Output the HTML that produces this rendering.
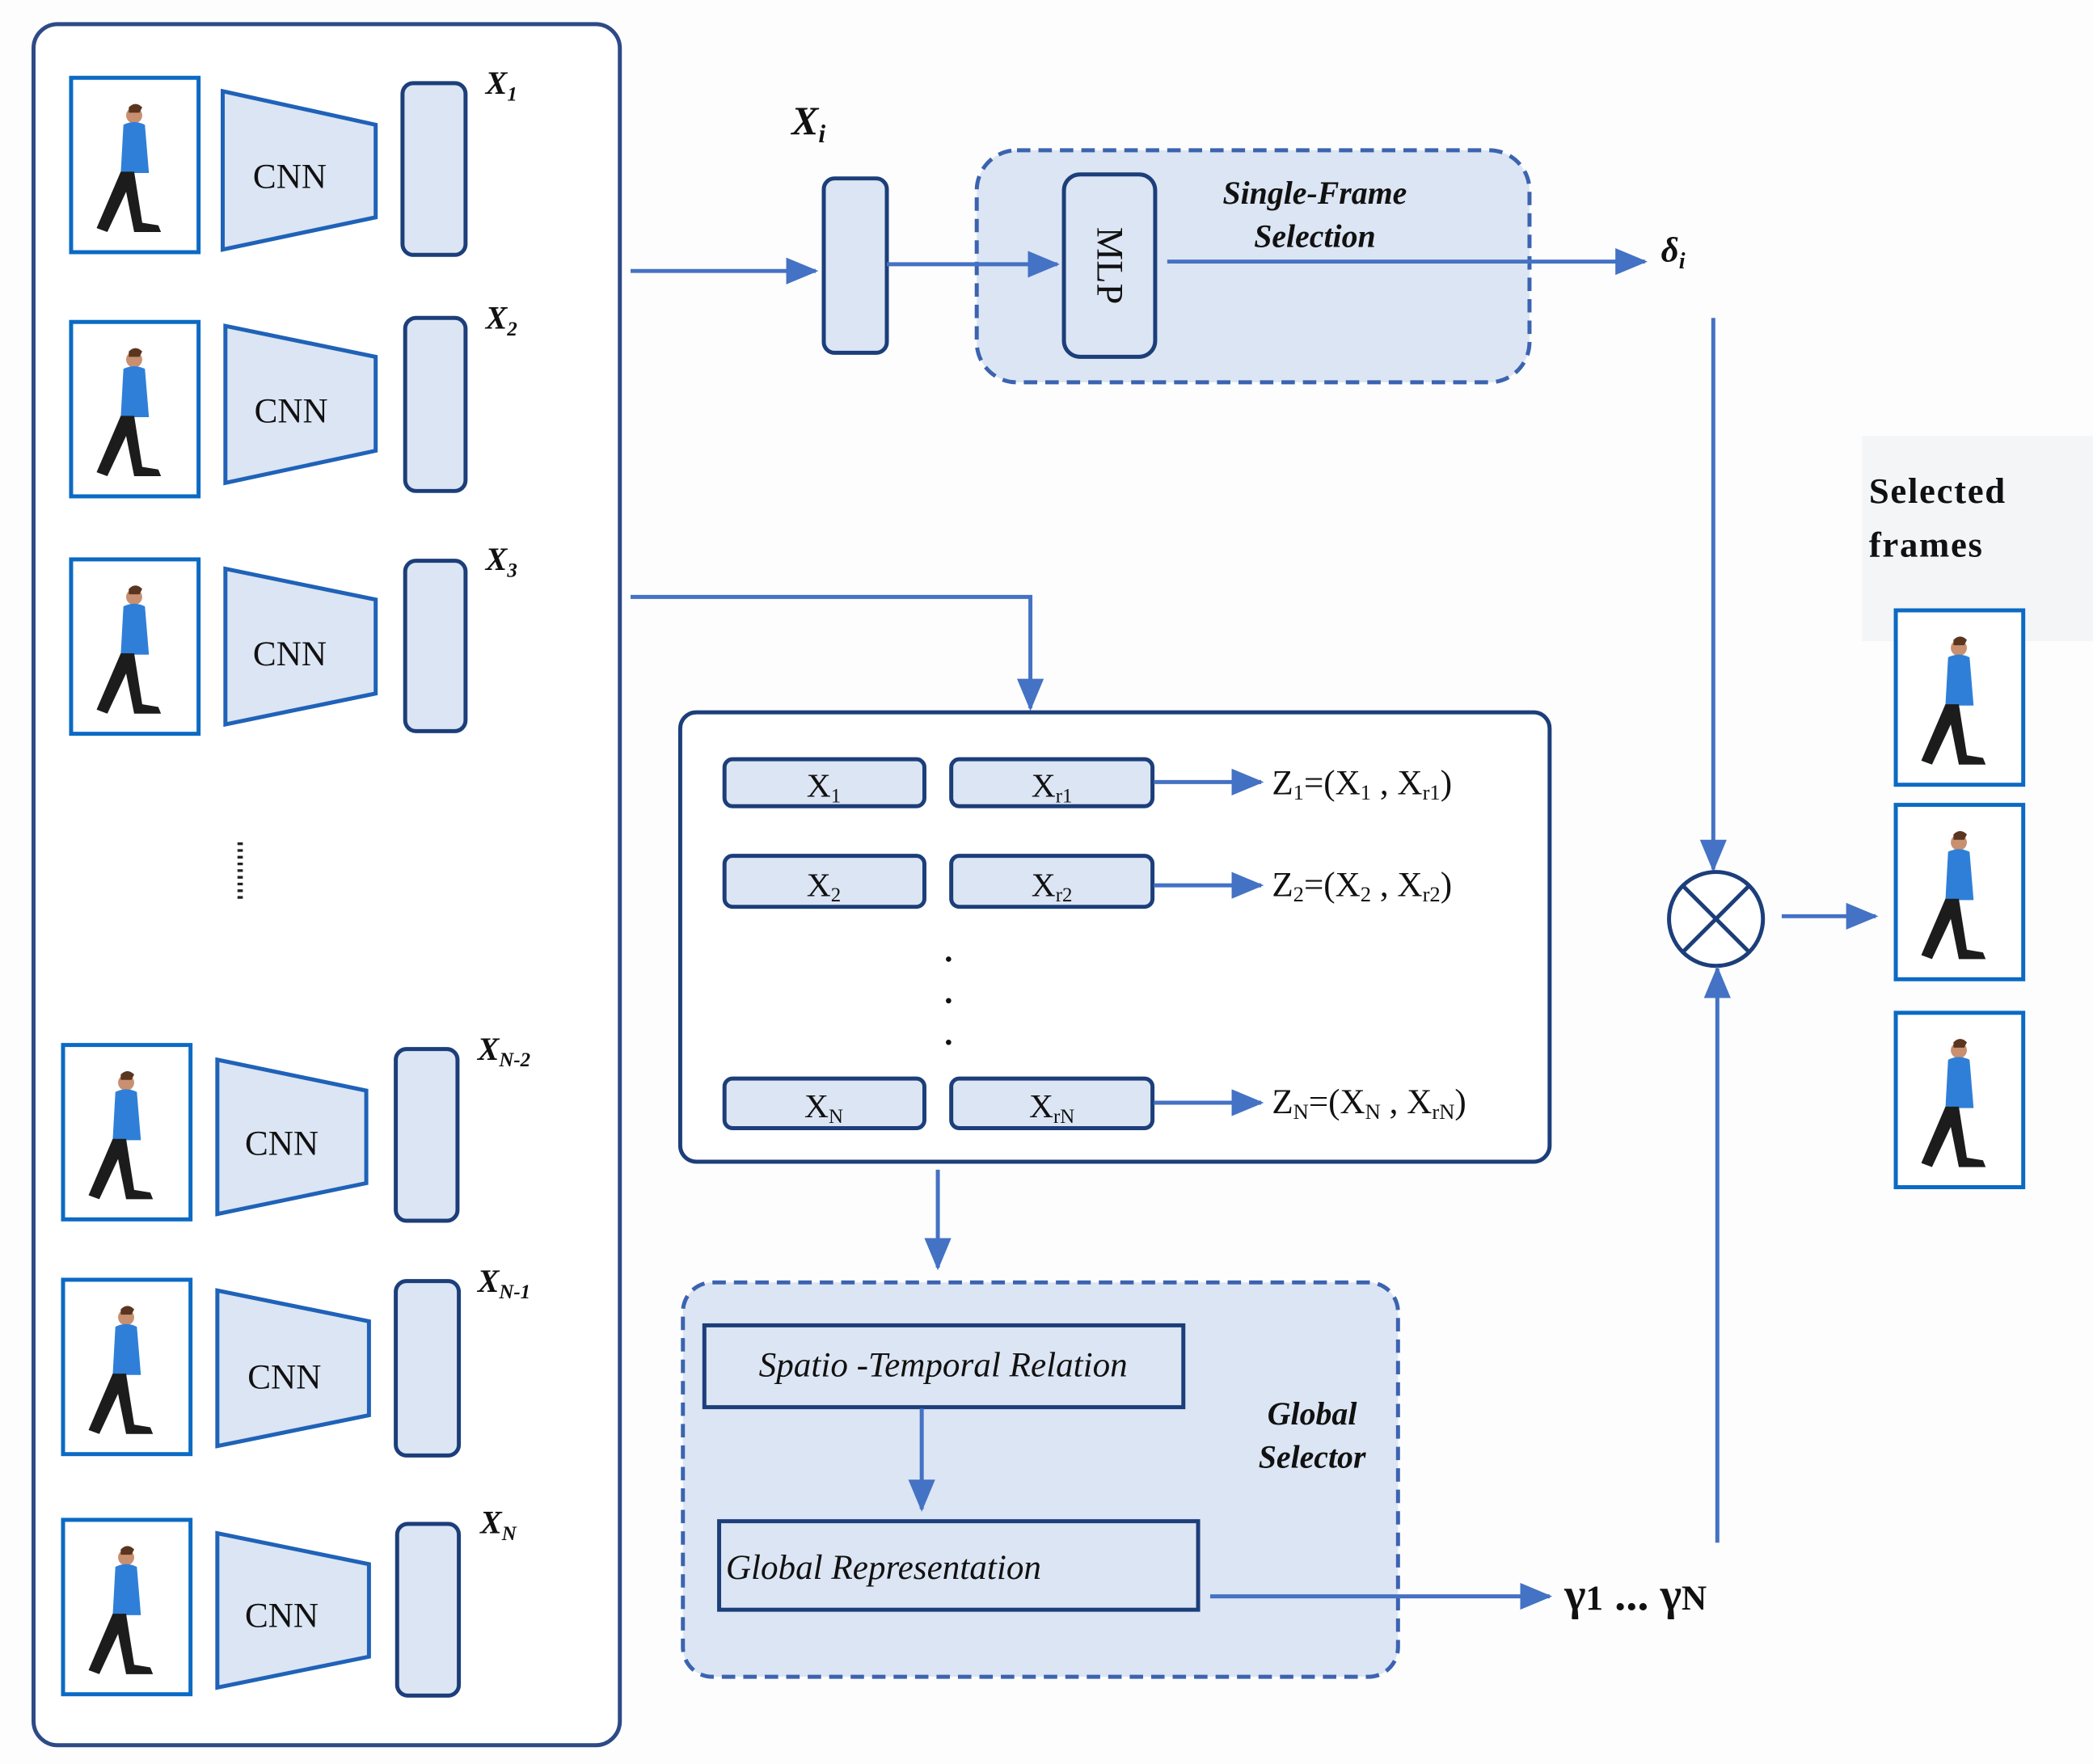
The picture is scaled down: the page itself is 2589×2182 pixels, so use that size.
<!DOCTYPE html>
<html><head><meta charset="utf-8"><style>
html,body{margin:0;padding:0;background:#fdfdfd;}
svg{display:block;}
text{font-family:"Liberation Serif",serif;}
.bi{font-weight:bold;font-style:italic;}
</style></head><body>
<svg width="2589" height="2182" viewBox="0 0 1560 1315" preserveAspectRatio="none" xmlns="http://www.w3.org/2000/svg">
<defs>
<marker id="ahb" markerWidth="24" markerHeight="20" refX="22" refY="10" orient="auto" markerUnits="userSpaceOnUse"><path d="M0,0 L24,10 L0,20 Z" fill="#4472c4"/></marker>
<g id="person">
<circle cx="0" cy="-44" r="6" fill="#c89070"/>
<path d="M-4,-50 q5,-5 10,0 l-2,4 h-8z" fill="#5a3520"/>
<path d="M-8,-37 q8,-4 16,0 l3,36 h-21z" fill="#2f7fd8"/>
<path d="M-10,-2 l-18,42 l8,3 l14,-30 l6,30 l20,0 l-2,-5 l-12,-2 l-6,-38z" fill="#1c1c1c"/>
</g>
<g id="frame">
<rect x="0" y="0" width="95" height="130" fill="#fff" stroke="#0b6ac4" stroke-width="3"/>
<use href="#person" x="47" y="72"/>
</g>
</defs>
<rect width="1560" height="1315" fill="#fdfdfd"/>
<rect x="25" y="18" width="437" height="1283" rx="18" fill="#fff" stroke="#2e4a86" stroke-width="3"/>
<use href="#frame" x="53" y="58"/>
<use href="#frame" x="53" y="240"/>
<use href="#frame" x="53" y="417"/>
<use href="#frame" x="47" y="779"/>
<use href="#frame" x="47" y="954"/>
<use href="#frame" x="47" y="1133"/>
<g fill="#dce5f3" stroke="#1f62b8" stroke-width="3">
<polygon points="166,68 280,93 280,162 166,186"/>
<polygon points="168,243 280,266 280,336 168,360"/>
<polygon points="168,424 280,447 280,517 168,540"/>
<polygon points="162,790 273,813 273,882 162,905"/>
<polygon points="162,962 275,985 275,1055 162,1078"/>
<polygon points="162,1143 275,1166 275,1235 162,1258"/>
</g>
<g font-size="26" fill="#111" text-anchor="middle">
<text x="216" y="140">CNN</text>
<text x="217" y="315">CNN</text>
<text x="216" y="496">CNN</text>
<text x="210" y="861">CNN</text>
<text x="212" y="1035">CNN</text>
<text x="210" y="1213">CNN</text>
</g>
<g fill="#dce5f3" stroke="#1c3e7a" stroke-width="3">
<rect x="300" y="62" width="47" height="128" rx="8"/>
<rect x="302" y="237" width="45" height="129" rx="8"/>
<rect x="302" y="418" width="45" height="127" rx="8"/>
<rect x="295" y="782" width="46" height="128" rx="8"/>
<rect x="295" y="955" width="47" height="130" rx="8"/>
<rect x="296" y="1136" width="46" height="128" rx="8"/>
</g>
<g class="bi" font-size="24" fill="#111">
<text x="362" y="70">X<tspan font-size="15" dy="5">1</tspan></text>
<text x="362" y="245">X<tspan font-size="15" dy="5">2</tspan></text>
<text x="362" y="425">X<tspan font-size="15" dy="5">3</tspan></text>
<text x="356" y="790">X<tspan font-size="15" dy="5">N-2</tspan></text>
<text x="356" y="963">X<tspan font-size="15" dy="5">N-1</tspan></text>
<text x="358" y="1143">X<tspan font-size="15" dy="5">N</tspan></text>
</g>
<line x1="179" y1="628" x2="179" y2="670" stroke="#222" stroke-width="4" stroke-dasharray="2,3"/>
<line x1="470" y1="202" x2="608" y2="202" stroke="#4472c4" stroke-width="3" marker-end="url(#ahb)"/>
<rect x="614" y="133" width="47" height="130" rx="8" fill="#dce5f3" stroke="#1c3e7a" stroke-width="3"/>
<text x="590" y="100" class="bi" font-size="30" fill="#111">X<tspan font-size="19" dy="6">i</tspan></text>
<rect x="728" y="112" width="412" height="173" rx="30" fill="#dce5f3" stroke="#3b63b0" stroke-width="3" stroke-dasharray="10,6"/>
<line x1="661" y1="197" x2="788" y2="197" stroke="#4472c4" stroke-width="3" marker-end="url(#ahb)"/>
<rect x="793" y="130" width="68" height="136" rx="12" fill="#dce5f3" stroke="#1c3e7a" stroke-width="3"/>
<text transform="translate(818,198) rotate(90)" font-size="28" text-anchor="middle" fill="#111">MLP</text>
<text x="980" y="152" class="bi" font-size="24" text-anchor="middle" fill="#111">Single-Frame</text>
<text x="980" y="184" class="bi" font-size="24" text-anchor="middle" fill="#111">Selection</text>
<line x1="870" y1="195" x2="1226" y2="195" stroke="#4472c4" stroke-width="3" marker-end="url(#ahb)"/>
<text x="1238" y="195" class="bi" font-size="26" fill="#111">δ<tspan font-size="17" dy="5">i</tspan></text>
<line x1="1277" y1="237" x2="1277" y2="648" stroke="#4472c4" stroke-width="3" marker-end="url(#ahb)"/>
<circle cx="1279" cy="685" r="35" fill="#fff" stroke="#1c3e7a" stroke-width="3"/>
<line x1="1254" y1="660" x2="1304" y2="710" stroke="#1c3e7a" stroke-width="3"/>
<line x1="1304" y1="660" x2="1254" y2="710" stroke="#1c3e7a" stroke-width="3"/>
<line x1="1280" y1="1150" x2="1280" y2="722" stroke="#4472c4" stroke-width="3" marker-end="url(#ahb)"/>
<line x1="1328" y1="683" x2="1398" y2="683" stroke="#4472c4" stroke-width="3" marker-end="url(#ahb)"/>
<polyline points="470,445 768,445 768,528" fill="none" stroke="#4472c4" stroke-width="3" marker-end="url(#ahb)"/>
<rect x="507" y="531" width="648" height="335" rx="12" fill="#fff" stroke="#1c3e7a" stroke-width="3"/>
<g fill="#dce5f3" stroke="#1c3e7a" stroke-width="3">
<rect x="540" y="566" width="149" height="35" rx="6"/><rect x="709" y="566" width="150" height="35" rx="6"/>
<rect x="540" y="638" width="149" height="38" rx="6"/><rect x="709" y="638" width="150" height="38" rx="6"/>
<rect x="540" y="804" width="149" height="37" rx="6"/><rect x="709" y="804" width="150" height="37" rx="6"/>
</g>
<g font-size="25" fill="#111" text-anchor="middle">
<text x="614" y="594">X<tspan font-size="15" dy="4">1</tspan></text>
<text x="784" y="594">X<tspan font-size="15" dy="4">r1</tspan></text>
<text x="614" y="668">X<tspan font-size="15" dy="4">2</tspan></text>
<text x="784" y="668">X<tspan font-size="15" dy="4">r2</tspan></text>
<text x="614" y="833">X<tspan font-size="15" dy="4">N</tspan></text>
<text x="784" y="833">X<tspan font-size="15" dy="4">rN</tspan></text>
</g>
<g stroke="#4472c4" stroke-width="3">
<line x1="860" y1="583" x2="940" y2="583" marker-end="url(#ahb)"/>
<line x1="860" y1="660" x2="940" y2="660" marker-end="url(#ahb)"/>
<line x1="860" y1="822" x2="940" y2="822" marker-end="url(#ahb)"/>
</g>
<g font-size="26" fill="#111">
<text x="948" y="592">Z<tspan font-size="16" dy="4">1</tspan><tspan dy="-4">=(X</tspan><tspan font-size="16" dy="4">1</tspan><tspan dy="-4"> , X</tspan><tspan font-size="16" dy="4">r1</tspan><tspan dy="-4">)</tspan></text>
<text x="948" y="668">Z<tspan font-size="16" dy="4">2</tspan><tspan dy="-4">=(X</tspan><tspan font-size="16" dy="4">2</tspan><tspan dy="-4"> , X</tspan><tspan font-size="16" dy="4">r2</tspan><tspan dy="-4">)</tspan></text>
<text x="948" y="830">Z<tspan font-size="16" dy="4">N</tspan><tspan dy="-4">=(X</tspan><tspan font-size="16" dy="4">N</tspan><tspan dy="-4"> , X</tspan><tspan font-size="16" dy="4">rN</tspan><tspan dy="-4">)</tspan></text>
</g>
<g fill="#111"><circle cx="707" cy="715" r="2"/><circle cx="707" cy="746" r="2"/><circle cx="707" cy="777" r="2"/></g>
<line x1="699" y1="872" x2="699" y2="945" stroke="#4472c4" stroke-width="3" marker-end="url(#ahb)"/>
<rect x="509" y="956" width="533" height="294" rx="22" fill="#dce5f3" stroke="#3b63b0" stroke-width="3" stroke-dasharray="10,6"/>
<rect x="525" y="988" width="357" height="61" fill="#dce5f3" stroke="#1c3e7a" stroke-width="3"/>
<text x="703" y="1026" font-size="26" font-style="italic" text-anchor="middle" fill="#111">Spatio -Temporal Relation</text>
<line x1="687" y1="1050" x2="687" y2="1125" stroke="#4472c4" stroke-width="3" marker-end="url(#ahb)"/>
<rect x="536" y="1134" width="357" height="66" fill="#dce5f3" stroke="#1c3e7a" stroke-width="3"/>
<text x="541" y="1177" font-size="26" font-style="italic" fill="#111">Global Representation</text>
<text x="978" y="1062" class="bi" font-size="24" text-anchor="middle" fill="#111">Global</text>
<text x="978" y="1094" class="bi" font-size="24" text-anchor="middle" fill="#111">Selector</text>
<line x1="902" y1="1190" x2="1155" y2="1190" stroke="#4472c4" stroke-width="3" marker-end="url(#ahb)"/>
<text x="1166" y="1200" font-size="34" font-weight="bold" fill="#111">γ<tspan font-size="26">1</tspan> ... γ<tspan font-size="26">N</tspan></text>
<rect x="1388" y="325" width="172" height="153" fill="#f4f5f7"/>
<text x="1393" y="375" font-size="27" font-weight="bold" fill="#111" letter-spacing="1">Selected</text>
<text x="1393" y="415" font-size="27" font-weight="bold" fill="#111" letter-spacing="1">frames</text>
<use href="#frame" x="1413" y="455"/>
<use href="#frame" x="1413" y="600"/>
<use href="#frame" x="1413" y="755"/>
</svg>
</body></html>
